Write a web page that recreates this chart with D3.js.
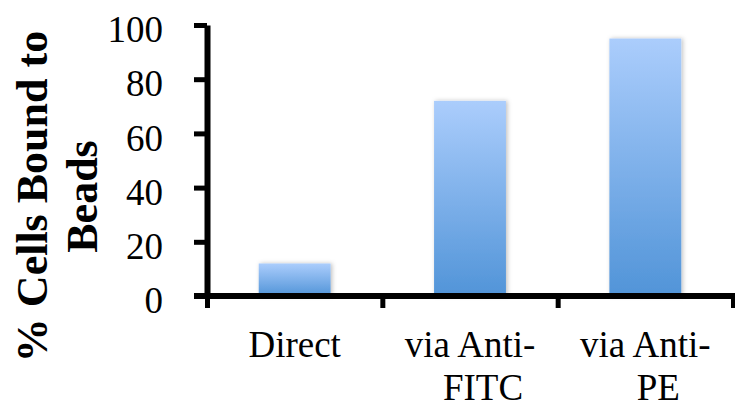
<!DOCTYPE html>
<html>
<head>
<meta charset="utf-8">
<script src="https://cdn.jsdelivr.net/npm/d3@7"></script>
<style>
  body { margin: 0; background: #fff; }
  svg text { font-family: "Liberation Serif", "DejaVu Serif", serif; fill: #000; }
</style>
</head>
<body>
<div id="chart"></div>
<script>
let categories = ["Direct", "via Anti-FITC", "via Anti-PE"]
let labelLines = [["Direct"], ["via Anti-", "FITC"], ["via Anti-", "PE"]]
let values = [12, 72, 95]
let yTicks = [0, 20, 40, 60, 80, 100]
let yTitle = ["% Cells Bound to", "Beads"]

let w = 735
let h = 404
let plotLeft = 207
let plotRight = 733
let plotTop = 25
let plotBottom = 296

let svg = d3.select("#chart")
  .append("svg")
  .attr("width", w)
  .attr("height", h)

let defs = svg.append("defs")
let grad = defs.append("linearGradient")
  .attr("id", "barGrad")
  .attr("x1", 0).attr("y1", 0)
  .attr("x2", 0).attr("y2", 1)
grad.append("stop").attr("offset", "0%").attr("stop-color", "#abcdfc")
grad.append("stop").attr("offset", "100%").attr("stop-color", "#5194d8")

let shadow = defs.append("filter")
  .attr("id", "shadow")
  .attr("x", "-20%").attr("y", "-20%")
  .attr("width", "140%").attr("height", "140%")
shadow.append("feDropShadow")
  .attr("dx", 1.5).attr("dy", 0)
  .attr("stdDeviation", 2)
  .attr("flood-color", "#000")
  .attr("flood-opacity", 0.25)

let x = d3.scaleBand()
  .domain(categories)
  .range([plotLeft, plotRight])
  .paddingInner(0.59)
  .paddingOuter(0.295)

// edges of the categories, for the x ticks
let xEdge = d3.scaleLinear()
  .domain([0, categories.length])
  .range([plotLeft, plotRight])

let y = d3.scaleLinear()
  .domain([0, 100])
  .range([plotBottom, plotTop])

// bars
svg.append("g")
  .selectAll("rect")
  .data(values)
  .join("rect")
  .attr("x", (d, i) => x(categories[i]))
  .attr("y", d => y(d))
  .attr("width", x.bandwidth())
  .attr("height", d => y(0) - y(d))
  .attr("fill", "url(#barGrad)")
  .attr("filter", "url(#shadow)")

// y axis
let yAxis = svg.append("g")
  .attr("transform", `translate(${plotLeft},0)`)
  .call(d3.axisLeft(y).tickValues(yTicks).tickSize(13).tickSizeOuter(0).tickPadding(31))
yAxis.select(".domain").attr("stroke", "#000").attr("stroke-width", 6)
yAxis.selectAll(".tick line").attr("stroke", "#000").attr("stroke-width", 5)
yAxis.selectAll(".tick text")
  .attr("font-size", 37)
  .attr("font-family", "Liberation Serif")
  .attr("dy", "0.45em")

// x axis
let xAxis = svg.append("g")
  .attr("transform", `translate(0,${plotBottom})`)
  .call(d3.axisBottom(xEdge).tickValues(d3.range(categories.length + 1)).tickSize(12).tickSizeOuter(0).tickFormat(""))
xAxis.select(".domain")
  .attr("stroke", "#000").attr("stroke-width", 6)
  .attr("d", `M${plotLeft - 13},0H${w}`)
xAxis.selectAll(".tick line").attr("stroke", "#000").attr("stroke-width", 5)

// category labels
let lab = svg.append("g")
  .selectAll("text")
  .data(labelLines)
  .join("text")
  .attr("text-anchor", "middle")
  .attr("font-size", 37)
  .attr("transform", (d, i) => `translate(${x(categories[i]) + x.bandwidth() / 2},${plotBottom + 61})`)
lab.selectAll("tspan")
  .data(d => d)
  .join("tspan")
  .attr("x", (d, i) => i ? 13 : 0)
  .attr("dy", (d, i) => i ? 43 : 0)
  .text(d => d)

// y title
svg.append("text")
  .attr("transform", `translate(47,${(plotTop + plotBottom) / 2 + 36}) rotate(-90)`)
  .attr("text-anchor", "middle")
  .attr("font-size", 44)
  .attr("font-weight", "bold")
  .selectAll("tspan")
  .data(yTitle)
  .join("tspan")
  .attr("x", 0)
  .attr("dy", (d, i) => i ? 50 : 0)
  .text(d => d)
</script>
</body>
</html>
